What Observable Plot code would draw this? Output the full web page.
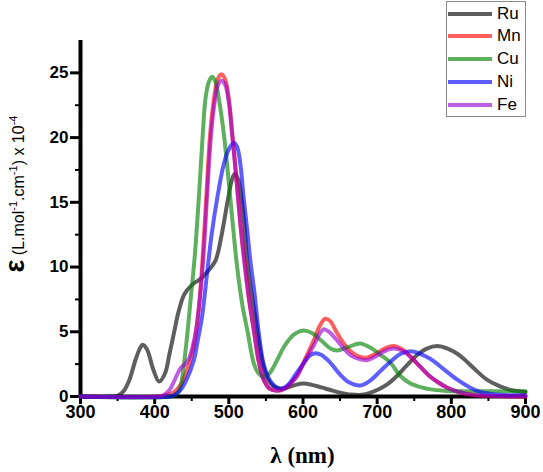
<!DOCTYPE html>
<html><head><meta charset="utf-8">
<script src="https://cdn.jsdelivr.net/npm/d3@7"></script>
<script src="https://cdn.jsdelivr.net/npm/@observablehq/plot@0.6"></script>
<style>
body{margin:0;background:#fff;}
#wrap{position:relative;width:543px;height:472px;font-family:"Liberation Sans",Arial,sans-serif;}
#legend{position:absolute;left:446px;top:1px;width:80px;height:116px;border:1px solid #8c8c8c;box-sizing:border-box;background:#fff;}
.row{position:absolute;left:0;height:22px;display:flex;align-items:center;}
.sw{width:44px;height:4px;margin-left:1px;}
.lb{margin-left:5px;font-size:17px;color:#000;line-height:22px;}
</style></head><body>
<div id="wrap"><div id="chart"></div><div id="legend"></div></div>
<script>
// Wavelength (nm) / epsilon (x10^4) readings per complex
const ruX = [300,340,350,358,366,374,380,384,390,398,406,414,420,426,432,440,450,462,472,482,490,499,504,508,513,517,521,525,530,536,541,546,552,560,570,580,590,601,612,625,637,650,665,682,700,715,727,740,754,767,781,795,808,817,830,848,865,880,900];
const ruY = [0,0,0.05,0.4,1.3,2.8,3.7,4.0,3.6,2.1,1.15,1.8,3.3,4.9,6.5,7.9,8.6,9.1,9.7,10.5,12.4,15.3,16.7,17.2,16.7,15.3,13.2,10.3,8.2,6.0,4.0,2.5,1.4,0.8,0.6,0.7,0.9,1.0,0.9,0.7,0.5,0.3,0.15,0.15,0.5,1.0,1.6,2.4,3.2,3.7,3.9,3.7,3.3,2.9,2.2,1.3,0.8,0.5,0.35];

const mnX = [300,405,415,425,435,442,448,454,459,464,469.5,475,480,485,490,495,500,504.5,508.5,512.6,517,521.5,527,534,540,547,555,565,575,583,592,603,615,623,630,637,645,655,664,675,686,698,710,722,735,748,758,770,782,794,810,830,850,900];
const mnY = [0,0,0.1,0.3,0.9,1.8,2.8,4.3,6.5,10.1,15.3,20.4,23.0,24.5,24.9,24.5,23.0,20.4,18.0,15.3,12.5,10.3,7.6,5.0,2.8,1.3,0.6,0.45,0.6,1.0,1.6,2.9,4.4,5.5,6.0,5.8,5.0,4.1,3.5,3.1,3.0,3.3,3.7,3.9,3.6,2.9,2.3,1.6,1.1,0.7,0.35,0.12,0.05,0];

const cuX = [300,420,430,435,439,444,449,454,459.5,465,468.5,473,477.5,482,486.5,493,497.5,502,506.5,511,515,519,525,534,540,547,555,565,575,588,601,612,625,637,646,660,677,690,705,718,731,745,760,772,790,816,860,900];
const cuY = [0,0,0.2,0.8,2.3,4.8,7.8,10.8,15.3,20.4,23.0,24.3,24.7,24.3,23.0,20.4,18.0,15.3,12.6,10.1,8.3,6.8,5.1,2.5,1.8,1.5,1.8,2.8,3.9,4.8,5.1,4.9,4.3,3.7,3.55,3.8,4.1,3.8,3.2,2.6,1.6,1.0,0.7,0.55,0.45,0.4,0.4,0.4];

const niX = [300,420,426,435,443,452.8,458,464,470.8,477,484,493,500,506.7,511,515.7,520,524.5,529,534.6,540,547,555,562,570,580,590,600,610,617,625,637,650,662,677,690,705,720,732,745,758,772,790,808,825,839,860,880,900];
const niY = [0,0,0.1,0.5,1.3,2.8,4.3,6.2,9.6,12.6,15.2,17.9,19.1,19.6,19.3,17.9,15.3,13.0,10.5,8.0,5.1,2.5,1.3,0.8,0.6,0.9,1.7,2.5,3.2,3.35,3.2,2.6,1.7,1.1,0.85,1.2,2.0,2.8,3.3,3.5,3.3,2.9,2.1,1.3,0.7,0.35,0.15,0.1,0.1];

const feX = [300,405,412,420,428,435,441,446,451,456,461,466,470.5,476,481,485,490,495,500,504.5,508.5,512.6,517,521.5,527,534,540,547,555,565,575,583,592,603,615,623,628,635,645,655,664,675,686,698,710,722,735,748,758,770,782,794,810,830,850,900];
const feY = [0,0,0.1,0.5,1.4,2.2,2.5,2.9,3.8,5.2,7.6,11.0,15.3,20.2,22.8,24.0,24.4,24.1,22.7,20.2,17.8,15.2,12.5,10.1,7.6,5.0,2.8,1.3,0.6,0.45,0.6,1.0,1.6,2.8,4.0,4.9,5.2,5.0,4.4,3.7,3.2,2.9,2.8,3.1,3.5,3.7,3.5,2.9,2.3,1.6,1.1,0.7,0.35,0.12,0.05,0];

const names = ["Ru","Mn","Cu","Ni","Fe"];
const colors = ["#000000","#ff0000","#008000","#0000ff","#9a00d0"];
const xTicks = [300,400,500,600,700,800,900];
const xMinor = [350,450,550,650,750,850];
const yTicks = [0,5,10,15,20,25];
const yMinor = [2.5,7.5,12.5,17.5,22.5];

const seriesX = [ruX,mnX,cuX,niX,feX];
const seriesY = [ruY,mnY,cuY,niY,feY];

const lineMarks = names.map((n,i) =>
  Plot.line(d3.zip(seriesX[i], seriesY[i]), {
    x: d => d[0], y: d => d[1],
    stroke: colors[i], strokeWidth: 4, strokeOpacity: 0.63,
    curve: "catmull-rom"
  })
);

const chart = Plot.plot({
  width: 543, height: 472,
  marginLeft: 80, marginRight: 18, marginTop: 40, marginBottom: 76,
  style: {fontFamily: '"Liberation Sans", Arial, sans-serif', background: "#fff"},
  x: {domain: [300, 900]},
  y: {domain: [0, 27.5]},
  marks: [
    Plot.axisX({ticks: xMinor, tickSize: 5, tickFormat: () => "", strokeWidth: 2, label: null}),
    Plot.axisX({ticks: xTicks, tickSize: 8, tickPadding: 1, strokeWidth: 3, fontSize: 18, fontWeight: "bold", label: null, tickFormat: d => String(d)}),
    Plot.axisY({ticks: yMinor, tickSize: 5, tickFormat: () => "", strokeWidth: 2, label: null}),
    Plot.axisY({ticks: yTicks, tickSize: 10, tickPadding: 2, strokeWidth: 3, fontSize: 17, fontWeight: "bold", label: null, tickFormat: d => String(d)}),
    Plot.ruleX([300], {strokeWidth: 4}),
    Plot.ruleY([0], {strokeWidth: 4}),
    ...lineMarks
  ]
});
document.getElementById("chart").appendChild(chart);

const svg = d3.select(chart);
svg.append("text")
  .attr("x", 302.5).attr("y", 463)
  .attr("text-anchor", "middle")
  .style("font-family", '"Liberation Serif","Times New Roman",serif')
  .style("font-size", "23px").style("font-weight", "bold")
  .text("λ (nm)");

const yl = svg.append("text")
  .attr("transform", "translate(24,194) rotate(-90)")
  .attr("text-anchor", "middle")
  .style("font-family", '"Liberation Sans",Arial,sans-serif')
  .style("font-size", "16px").attr("fill", "#000");
yl.append("tspan").style("font-size", "27px").style("font-weight", "bold").text("ε");
yl.append("tspan").text(" (L.mol");
yl.append("tspan").style("font-size", "11px").attr("dy", -7).text("-1");
yl.append("tspan").attr("dy", 7).text(".cm");
yl.append("tspan").style("font-size", "11px").attr("dy", -7).text("-1");
yl.append("tspan").attr("dy", 7).text(") x 10");
yl.append("tspan").style("font-size", "11px").attr("dy", -7).text("-4");

const legend = document.getElementById("legend");
const rowCenters = [12, 34, 57, 80, 103];
names.forEach((n, i) => {
  const row = document.createElement("div");
  row.className = "row";
  row.style.top = (rowCenters[i] - 11) + "px";
  const sw = document.createElement("div");
  sw.className = "sw";
  sw.style.background = colors[i];
  sw.style.opacity = 0.63;
  const lb = document.createElement("span");
  lb.className = "lb";
  lb.textContent = n;
  row.appendChild(sw); row.appendChild(lb);
  legend.appendChild(row);
});
</script>
</body></html>
